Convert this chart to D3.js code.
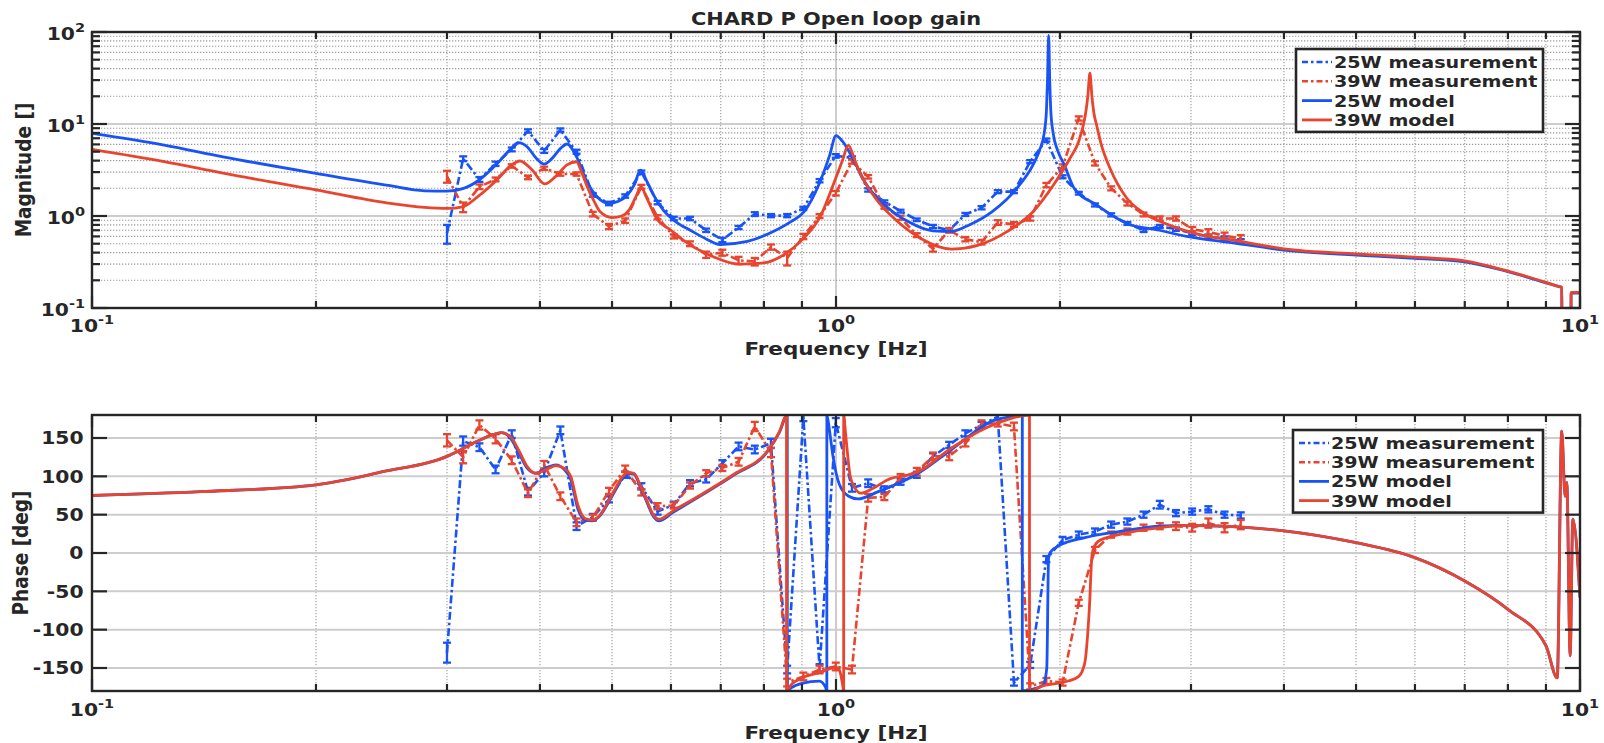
<!DOCTYPE html>
<html>
<head>
<meta charset="utf-8">
<script src="https://cdn.jsdelivr.net/npm/d3@7/dist/d3.min.js"></script>
<style>
html,body{margin:0;padding:0;background:#fff;}
svg{display:block;}
text{font-family:"DejaVu Sans",sans-serif;font-weight:bold;fill:#262626;}
</style>
</head>
<body>
<svg id="chart" width="1604" height="743"></svg>
<script>
// ---------------- DATA ----------------
const titleText = "CHARD P Open loop gain";
const xLabelText = "Frequency [Hz]";
const magLabelText = "Magnitude []";
const phaseLabelText = "Phase [deg]";
const legendLabels = ["25W measurement", "39W measurement", "25W model", "39W model"];
const xTickValues = [0.1, 1, 10];
const xTickExponents = ["-1", "0", "1"];
const magTickValues = [0.1, 1, 10, 100];
const magTickExponents = ["-1", "0", "1", "2"];
const phaseTickValues = [-150, -100, -50, 0, 50, 100, 150];

// measurement frequencies [Hz]
const freqMeas = [0.300,0.3154,0.3317,0.3487,0.3666,0.3855,0.4053,0.4261,0.4480,0.4711,
  0.4953,0.5208,0.5475,0.5757,0.6053,0.6364,0.6691,0.7035,0.7397,0.7777,
  0.8177,0.8597,0.9039,0.9504,0.9993,1.0507,1.1047,1.1615,1.2212,1.2840,
  1.3500,1.4194,1.4924,1.5691,1.6498,1.7346,1.8238,1.9176,2.0162,2.1198,
  2.2288,2.3434,2.4639,2.5906,2.7238,2.8638,3.0111,3.1659,3.3286,3.4998];

// 25W measurement magnitude and error
const mag25Meas = [0.65,4.2,2.5,3.7,5.3,8.4,5.1,8.6,5.0,1.7,
  1.37,1.65,3.0,1.4,0.94,0.94,0.70,0.55,0.75,1.05,
  1.01,1.01,1.21,2.42,4.5,4.3,1.92,1.43,1.13,0.91,
  0.77,0.70,1.04,1.23,1.84,1.84,3.9,6.7,2.67,1.77,
  1.32,1.03,0.83,0.70,0.77,0.72,0.65,0.60,0.57,0.53];
const mag25Err = [0.15,0.25,0.15,0.2,0.25,0.35,0.25,0.35,0.25,0.08,
  0.06,0.07,0.12,0.06,0.04,0.04,0.03,0.03,0.03,0.05,
  0.04,0.04,0.05,0.1,0.2,0.15,0.08,0.05,0.04,0.03,
  0.03,0.03,0.04,0.05,0.07,0.07,0.15,0.25,0.1,0.06,
  0.05,0.04,0.03,0.03,0.03,0.03,0.03,0.03,0.03,0.03];

// 39W measurement magnitude and error
const mag39Meas = [2.7,1.25,2.08,2.5,3.5,2.63,3.3,2.86,2.86,1.05,
  0.77,0.89,2.08,0.97,0.60,0.50,0.38,0.40,0.33,0.32,
  0.46,0.35,0.60,1.0,1.77,3.9,2.67,1.26,0.96,0.62,
  0.44,0.70,0.56,0.52,0.85,0.81,0.94,2.17,3.44,11.5,
  3.74,2.0,1.37,1.04,0.94,0.94,0.72,0.67,0.61,0.57];
const mag39Err = [0.4,0.15,0.12,0.12,0.15,0.12,0.14,0.12,0.12,0.06,
  0.05,0.05,0.1,0.05,0.03,0.03,0.03,0.03,0.03,0.03,
  0.03,0.06,0.04,0.05,0.1,0.2,0.12,0.06,0.05,0.03,
  0.03,0.04,0.03,0.03,0.05,0.05,0.05,0.12,0.2,0.6,
  0.2,0.1,0.07,0.05,0.05,0.05,0.04,0.05,0.05,0.05];

// 25W measurement phase [deg] and error
const ph25Meas = [-130,146,138,109,155,80,105,160,35,47,
  70,102,87,54,63,91,96,117,139,135,
  143,-152,177,-150,170,85,91,83,93,102,
  126,141,156,167,178,-169,-146,-8,17,24,
  28,37,41,50,63,52,54,57,50,49];
const ph25Err = [13,6,5,5,5,5,5,5,5,4,
  4,4,4,4,4,4,4,4,5,5,
  6,5,5,5,6,5,5,4,4,4,
  4,4,4,4,4,4,4,4,4,4,
  4,4,4,4,5,4,4,4,4,4];

// 39W measurement phase [deg] and error
const ph39Meas = [147,125,167,149,121,78,115,74,40,46,
  81,110,79,61,62,88,104,111,119,165,
  131,-169,-161,-152,-148,-152,72,73,98,106,
  126,126,143,169,169,165,-174,-167,-169,-65,
  4,24,28,33,35,35,33,39,33,37];
const ph39Err = [8,8,6,6,5,5,5,5,5,4,
  4,4,4,4,4,4,4,4,5,6,
  6,5,5,5,5,5,5,4,5,5,
  5,5,4,4,4,5,4,4,4,4,
  4,4,4,4,4,5,5,6,6,6];

// 25W model magnitude [freq, value]
const mag25Model = [[0.1,7.9],[0.125,5.9],[0.15,4.4],[0.2,2.91],[0.25,2.15],[0.28,1.88],[0.3,1.86],
  [0.315,1.98],[0.33,2.4],[0.35,3.67],[0.365,5.3],[0.374,6.26],[0.385,5.6],[0.395,4.3],[0.405,3.67],
  [0.415,4.2],[0.427,5.5],[0.435,6.06],[0.448,4.4],[0.463,2.33],[0.478,1.6],[0.495,1.37],[0.51,1.45],
  [0.523,1.65],[0.536,2.2],[0.546,3.16],[0.558,2.3],[0.572,1.55],[0.586,1.16],[0.61,0.86],[0.637,0.70],
  [0.67,0.56],[0.698,0.49],[0.76,0.53],[0.83,0.70],[0.87,0.87],[0.905,1.1],[0.95,2.27],[0.98,4.5],
  [1.0,7.46],[1.02,6.5],[1.053,4.24],[1.1,2.17],[1.17,1.26],[1.25,0.87],[1.35,0.69],[1.43,0.68],
  [1.51,0.80],[1.62,1.11],[1.75,2.0],[1.84,3.6],[1.878,5.2],[1.905,8.0],[1.918,14],[1.924,28],
  [1.931,92],[1.938,28],[1.944,14],[1.958,8.0],[1.985,5.2],[2.027,3.6],[2.09,2.0],[2.24,1.32],
  [2.46,0.83],[2.72,0.70],[2.96,0.60],[3.45,0.505],[4,0.427],[5,0.376],[6,0.347],[7,0.318],
  [8,0.248],[9,0.188],[9.4,0.17],[9.45,0.168],[9.46,0.05],[9.72,0.05],[9.73,0.145],[10,0.145]];

// 39W model magnitude [freq, value]
const mag39Model = [[0.1,5.3],[0.125,3.9],[0.15,2.92],[0.2,1.92],[0.25,1.38],[0.28,1.24],[0.3,1.21],
  [0.315,1.26],[0.33,1.62],[0.35,2.46],[0.365,3.5],[0.376,3.96],[0.39,3.2],[0.406,2.23],[0.42,2.7],
  [0.435,3.6],[0.448,3.89],[0.455,3.0],[0.463,2.08],[0.472,1.5],[0.482,1.11],[0.5,0.96],[0.515,1.0],
  [0.527,1.16],[0.538,1.6],[0.547,2.08],[0.556,1.6],[0.574,0.94],[0.6,0.7],[0.623,0.548],[0.684,0.361],
  [0.74,0.30],[0.8,0.31],[0.85,0.377],[0.9,0.55],[0.955,1.03],[0.995,2.36],[1.02,4.0],[1.039,5.9],
  [1.055,4.5],[1.07,3.3],[1.13,1.56],[1.21,0.87],[1.3,0.57],[1.43,0.4375],[1.55,0.48],[1.7,0.68],
  [1.84,1.11],[1.96,2.17],[2.063,4.24],[2.12,6.5],[2.15,9.75],[2.165,13],[2.18,20],[2.194,35.6],
  [2.208,20],[2.222,13],[2.24,9.75],[2.27,6.2],[2.335,3.3],[2.46,1.56],[2.59,1.08],[2.8,0.80],
  [3.1,0.62],[3.4,0.55],[4,0.44],[5,0.387],[6,0.357],[7,0.325],[8,0.252],[9,0.19],[9.4,0.17],
  [9.45,0.168],[9.46,0.05],[9.72,0.05],[9.73,0.148],[10,0.148]];

// 25W model phase [freq, deg]
const ph25Model = [[0.1,75],[0.14,80],[0.2,89],[0.246,106],[0.3,126],[0.315,136],[0.33,146],[0.345,154],
  [0.355,157],[0.365,150],[0.375,130],[0.385,110],[0.395,104],[0.41,112],[0.42,115],[0.432,108],
  [0.44,96],[0.45,57],[0.46,43],[0.47,42],[0.48,47],[0.5,74],[0.515,96],[0.525,104],[0.535,103],
  [0.546,86],[0.556,68],[0.568,48],[0.578,42],[0.604,53],[0.656,74],[0.73,102],[0.81,133],[0.84,158],
  [0.86,180],[0.8601,-180],[0.87,-176],[0.9,-170],[0.95,-167],[0.968,-175],[0.972,-180],[0.9721,180],
  [0.98,160],[0.99,128],[1.01,90],[1.04,74],[1.07,70.5],[1.14,80],[1.29,104],[1.43,135],[1.64,174],
  [1.72,178],[1.78,180],[1.7801,-180],[1.85,-177],[1.9,-172],[1.92,-150],[1.931,-5],[1.945,2],
  [1.99,9],[2.16,20],[2.4,28],[2.72,35],[2.96,36],[3.45,34],[4,29],[5,13.5],[6,-6],[7,-36.5],
  [8,-73.5],[9,-121],[9.32,-163],[9.45,159],[9.55,74],[9.6,92],[9.7,-134],[9.78,44],[10,-58]];

// 39W model phase [freq, deg]
const ph39Model = [[0.1,75],[0.14,80],[0.2,89],[0.246,106],[0.3,126],[0.315,136],[0.33,146],[0.345,154],
  [0.355,157],[0.365,152],[0.375,133],[0.385,112],[0.395,104],[0.41,110],[0.42,114],[0.432,110],
  [0.44,100],[0.45,62],[0.46,45],[0.47,43],[0.48,48],[0.5,76],[0.515,98],[0.525,105],[0.535,104],
  [0.546,88],[0.556,70],[0.568,50],[0.578,44],[0.604,55],[0.656,75],[0.73,103],[0.81,134],[0.84,159],
  [0.858,180],[0.8581,-180],[0.87,-172],[0.9,-163],[0.95,-156],[1.0,-149],[1.01,-152],[1.02,-170],
  [1.024,-180],[1.0241,180],[1.03,156],[1.045,100],[1.06,85],[1.08,78],[1.12,84],[1.17,95],[1.29,106],
  [1.43,137],[1.59,163],[1.7,174],[1.82,180],[1.8201,-180],[1.9,-173],[1.95,-171],[2.05,-167],
  [2.12,-161],[2.16,-143],[2.19,-74],[2.21,0],[2.25,15],[2.4,24],[2.72,33],[2.96,36],[3.45,34],
  [4,29],[5,13.5],[6,-6],[7,-36.5],[8,-73.5],[9,-121],[9.32,-163],[9.45,159],[9.55,74],[9.6,92],
  [9.7,-134],[9.78,44],[10,-58]];

// ---------------- LAYOUT / STYLE ----------------
const BLUE = "#1753f7", RED = "#e8442e", AX = "#262626";
const SX = 1.16; // horizontal text stretch of the original figure
const L = 92, R = 1580;
const topP = {y0: 32, y1: 308}, botP = {y0: 415, y1: 691};

const svg = d3.select("#chart");
svg.append("rect").attr("width", 1604).attr("height", 743).attr("fill", "#fff");

const x = d3.scaleLog().domain([0.1, 10]).range([L, R]);
const yMag = d3.scaleLog().domain([0.1, 100]).range([topP.y1, topP.y0]);
const yPh = d3.scaleLinear().domain([-180, 180]).range([botP.y1, botP.y0]);

const defs = svg.append("defs");
defs.append("clipPath").attr("id", "clipTop").append("rect")
  .attr("x", L).attr("y", topP.y0).attr("width", R - L).attr("height", topP.y1 - topP.y0);
defs.append("clipPath").attr("id", "clipBot").append("rect")
  .attr("x", L).attr("y", botP.y0).attr("width", R - L).attr("height", botP.y1 - botP.y0);

function addText(sel, px, py, parts, o = {}) {
  const t = sel.append("text")
    .attr("transform", `translate(${px},${py}) scale(${SX},1)` + (o.rot ? " rotate(-90)" : ""))
    .attr("text-anchor", o.anchor || "start")
    .attr("font-size", o.size || 17.5);
  parts.forEach(([s, sup]) => {
    const ts = t.append("tspan").text(s);
    if (sup) ts.attr("font-size", o.supSize || 12.5).attr("dy", -8);
  });
  return t;
}

const xTicksAll = x.ticks();
const isDecade = v => Math.abs(Math.log10(v) - Math.round(Math.log10(v))) < 1e-9;

function drawGrid(g, p, yScale, yTicksMinor, yTicksMajor) {
  xTicksAll.forEach(v => {
    const px = x(v);
    if (px <= L + 0.5 || px >= R - 0.5) return;
    if (isDecade(v)) {
      g.append("line").attr("x1", px).attr("x2", px).attr("y1", p.y0).attr("y2", p.y1)
        .attr("stroke", "#c8c8c8").attr("stroke-width", 1.8);
    } else {
      g.append("line").attr("x1", px).attr("x2", px).attr("y1", p.y0).attr("y2", p.y1)
        .attr("stroke", "#9a9a9a").attr("stroke-width", 1.1).attr("stroke-dasharray", "1.3,1.7");
    }
  });
  yTicksMinor.forEach(v => {
    const py = yScale(v);
    if (py <= p.y0 + 0.5 || py >= p.y1 - 0.5) return;
    g.append("line").attr("x1", L).attr("x2", R).attr("y1", py).attr("y2", py)
      .attr("stroke", "#9a9a9a").attr("stroke-width", 1.1).attr("stroke-dasharray", "1.3,1.7");
  });
  yTicksMajor.forEach(v => {
    const py = yScale(v);
    if (py <= p.y0 + 0.5 || py >= p.y1 - 0.5) return;
    g.append("line").attr("x1", L).attr("x2", R).attr("y1", py).attr("y2", py)
      .attr("stroke", "#cdcdcd").attr("stroke-width", 2);
  });
}

function drawAxes(g, p, yScale, yTickList, yMajorFn) {
  g.append("rect").attr("x", L).attr("y", p.y0).attr("width", R - L).attr("height", p.y1 - p.y0)
    .attr("fill", "none").attr("stroke", AX).attr("stroke-width", 2.4);
  xTicksAll.forEach(v => {
    const px = x(v), len = isDecade(v) ? 12 : 7;
    g.append("line").attr("x1", px).attr("x2", px).attr("y1", p.y1).attr("y2", p.y1 - len)
      .attr("stroke", AX).attr("stroke-width", 2.2);
    g.append("line").attr("x1", px).attr("x2", px).attr("y1", p.y0).attr("y2", p.y0 + len)
      .attr("stroke", AX).attr("stroke-width", 2.2);
  });
  yTickList.forEach(v => {
    const py = yScale(v), len = yMajorFn(v) ? 15 : 8;
    g.append("line").attr("x1", L).attr("x2", L + len).attr("y1", py).attr("y2", py)
      .attr("stroke", AX).attr("stroke-width", 2.2);
    g.append("line").attr("x1", R).attr("x2", R - len).attr("y1", py).attr("y2", py)
      .attr("stroke", AX).attr("stroke-width", 2.2);
  });
}

function drawMeas(g, yScale, vals, errs, color) {
  const pts = freqMeas.map((f, i) => [f, vals[i]]);
  g.append("path").datum(pts)
    .attr("d", d3.line().x(d => x(d[0])).y(d => yScale(d[1])))
    .attr("fill", "none").attr("stroke", color).attr("stroke-width", 2.6)
    .attr("stroke-dasharray", "8,3,2.5,3").attr("stroke-linejoin", "round");
  freqMeas.forEach((f, i) => {
    const px = x(f);
    const ya = yScale(vals[i] - errs[i]), yb = yScale(vals[i] + errs[i]);
    g.append("line").attr("x1", px).attr("x2", px).attr("y1", ya).attr("y2", yb)
      .attr("stroke", color).attr("stroke-width", 2.3);
    [ya, yb].forEach(yy => g.append("line").attr("x1", px - 4).attr("x2", px + 4)
      .attr("y1", yy).attr("y2", yy).attr("stroke", color).attr("stroke-width", 2.3));
  });
}

function drawModel(g, yScale, pts, color) {
  g.append("path").datum(pts)
    .attr("d", d3.line().x(d => x(d[0])).y(d => yScale(d[1])).curve(d3.curveMonotoneX))
    .attr("fill", "none").attr("stroke", color).attr("stroke-width", 2.8)
    .attr("stroke-linejoin", "round");
}

function drawLegend(g, lx, ly, w, rowH) {
  const h = rowH * 3 + 25;
  g.append("rect").attr("x", lx).attr("y", ly).attr("width", w).attr("height", h)
    .attr("fill", "#fff").attr("stroke", AX).attr("stroke-width", 2.6);
  const styles = [[BLUE, "6,3,2.5,3"], [RED, "6,3,2.5,3"], [BLUE, null], [RED, null]];
  legendLabels.forEach((lab, i) => {
    const cy = ly + 13 + i * rowH;
    const ln = g.append("line").attr("x1", lx + 6).attr("x2", lx + 36).attr("y1", cy).attr("y2", cy)
      .attr("stroke", styles[i][0]).attr("stroke-width", styles[i][1] ? 2.5 : 2.8);
    if (styles[i][1]) ln.attr("stroke-dasharray", styles[i][1]);
    addText(g, lx + 38, cy + 6, [[lab]], {size: 16.5});
  });
}

// ---------------- TOP: MAGNITUDE ----------------
const gTop = svg.append("g");
const magTicksAll = yMag.ticks();
drawGrid(gTop, topP, yMag, magTicksAll.filter(v => !isDecade(v)), magTicksAll.filter(isDecade));
const gTopData = gTop.append("g").attr("clip-path", "url(#clipTop)");
drawMeas(gTopData, yMag, mag25Meas, mag25Err, BLUE);
drawMeas(gTopData, yMag, mag39Meas, mag39Err, RED);
drawModel(gTopData, yMag, mag25Model, BLUE);
drawModel(gTopData, yMag, mag39Model, RED);
drawAxes(gTop, topP, yMag, magTicksAll, isDecade);
magTickValues.forEach((v, i) => {
  addText(gTop, 85, yMag(v) + 8, [["10"], [magTickExponents[i], true]], {anchor: "end"});
});
xTickValues.forEach((v, i) => {
  addText(gTop, x(v), 332, [["10"], [xTickExponents[i], true]], {anchor: "middle"});
});
addText(gTop, 836, 355, [[xLabelText]], {anchor: "middle", size: 18.5});
addText(gTop, 31, (topP.y0 + topP.y1) / 2, [[magLabelText]], {anchor: "middle", size: 18.5, rot: true});
addText(gTop, 836, 25, [[titleText]], {anchor: "middle", size: 18});
drawLegend(gTop, 1296, 49, 247, 19.3);

// ---------------- BOTTOM: PHASE ----------------
const gBot = svg.append("g");
drawGrid(gBot, botP, yPh, [], phaseTickValues);
const gBotData = gBot.append("g").attr("clip-path", "url(#clipBot)");
drawMeas(gBotData, yPh, ph25Meas, ph25Err, BLUE);
drawMeas(gBotData, yPh, ph39Meas, ph39Err, RED);
drawModel(gBotData, yPh, ph25Model, BLUE);
drawModel(gBotData, yPh, ph39Model, RED);
drawAxes(gBot, botP, yPh, phaseTickValues, () => true);
phaseTickValues.forEach(v => {
  addText(gBot, 83.5, yPh(v) + 6.3, [[String(v)]], {anchor: "end"});
});
xTickValues.forEach((v, i) => {
  addText(gBot, x(v), 716, [["10"], [xTickExponents[i], true]], {anchor: "middle"});
});
addText(gBot, 836, 739, [[xLabelText]], {anchor: "middle", size: 18.5});
addText(gBot, 28, (botP.y0 + botP.y1) / 2, [[phaseLabelText]], {anchor: "middle", size: 18.5, rot: true});
drawLegend(gBot, 1293, 430, 250, 19.2);
</script>
</body>
</html>
